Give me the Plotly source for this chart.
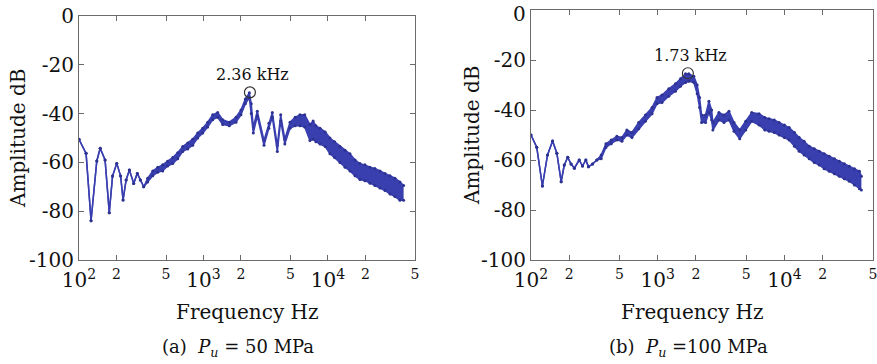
import math
import plotly.graph_objects as go

# ---------------- data ----------------
# (a) Pu = 50 MPa : frequency [Hz], upper and lower edge of the trace [dB]
FREQ_A = [100, 114, 125, 139, 148, 162, 175, 186, 201, 216, 226, 239, 254, 275, 294, 311, 331,
          356, 391, 429, 470, 515, 566, 621, 681, 747, 819, 898, 985, 1081, 1186, 1300, 1426,
          1612, 1824, 2000, 2168, 2336, 2420, 2512, 2704, 3062, 3350, 3570, 3918, 4170, 4500,
          4955, 5450, 5957, 6500, 7161, 7600, 8000, 8630, 9500, 10370, 11300, 12470, 13700,
          15020, 16500, 18060, 19800, 21730, 23800, 26180, 28700, 31480, 34500, 37850, 40500]
HI_A = [-50.5, -56.3, -83.9, -59.4, -54.2, -59.0, -80.6, -65.6, -60.4, -65.6, -75.4, -67.2, -63.1,
        -68.6, -64.5, -67.2, -70.0,
        -66.5, -63.5, -62.0, -61.0, -59.5, -58.0, -56.0, -53.5, -52.0, -50.5, -48.0, -46.0, -43.5,
        -40.5, -39.5, -42.5, -43.5, -41.5, -38.5, -34.0, -31.5, -36.0, -45.5, -39.0, -51.0, -44.0,
        -39.5, -53.0, -40.5, -50.5, -43.5, -41.5, -40.5, -40.5, -44.5, -43.0, -45.0, -46.0, -47.5,
        -50.0, -51.5, -53.5, -55.0, -56.5, -59.0, -60.5, -61.0, -62.0, -62.5, -63.5, -64.5, -65.5,
        -66.5, -68.0, -69.5]
LO_A = [-50.5, -56.3, -83.9, -59.4, -54.2, -59.0, -80.6, -65.6, -60.4, -65.6, -75.4, -67.2, -63.1,
        -68.6, -64.5, -67.2, -70.0,
        -68.0, -65.5, -64.0, -63.5, -61.5, -60.5, -58.5, -55.5, -54.5, -53.0, -50.0, -48.0, -45.5,
        -42.5, -41.5, -44.5, -45.0, -43.5, -40.5, -36.0, -33.5, -40.0, -48.0, -41.0, -53.0, -46.0,
        -41.5, -55.5, -43.0, -52.5, -46.0, -45.0, -45.0, -45.5, -51.0, -50.5, -51.5, -52.5, -53.5,
        -56.5, -58.0, -60.0, -62.0, -63.5, -65.5, -67.0, -67.5, -68.5, -69.5, -70.5, -71.5, -73.0,
        -74.0, -75.5, -75.5]

# (b) Pu = 100 MPa
FREQ_B = [100, 111, 123, 135, 148, 160, 173, 183, 195, 207, 220, 240, 255, 271, 284, 306, 331,
          358, 390, 430, 476, 522, 571, 626, 708, 800, 902, 987, 1081, 1222, 1380, 1513, 1657,
          1760, 1928, 2048, 2139, 2220, 2386, 2535, 2663, 2725, 3040, 3333, 3650, 4000, 4436,
          4950, 5520, 6310, 7000, 7570, 8300, 9080, 10000, 10900, 12000, 13070, 14300, 15700,
          17200, 18830, 20600, 22590, 24800, 27100, 29700, 32520, 35700, 39090, 40500]
HI_B = [-50.0, -54.9, -70.4, -58.0, -52.4, -57.3, -68.7, -62.0, -58.9, -61.6, -63.3, -60.0, -62.4,
        -60.0, -62.7, -61.6, -60.0,
        -58.0, -53.5, -52.0, -50.5, -51.0, -48.0, -49.0, -45.0, -42.0, -39.0, -35.0, -34.0, -31.5,
        -29.5, -27.5, -25.5, -25.5, -26.5, -30.0, -35.0, -42.0, -42.0, -36.5, -40.0, -45.0, -41.0,
        -42.0, -40.5, -45.0, -48.0, -44.5, -41.0, -41.5, -43.0, -43.5, -44.0, -45.0, -46.0, -47.0,
        -49.0, -51.0, -52.5, -54.5, -55.5, -56.5, -57.5, -58.5, -59.5, -60.5, -61.5, -62.5, -63.5,
        -64.5, -66.5]
LO_B = [-50.0, -54.9, -70.4, -58.0, -52.4, -57.3, -68.7, -62.0, -58.9, -61.6, -63.3, -60.0, -62.4,
        -60.0, -62.7, -61.6, -60.0,
        -59.5, -55.0, -53.5, -52.0, -52.5, -50.0, -51.0, -47.5, -44.5, -41.5, -37.5, -37.0, -34.5,
        -32.5, -30.5, -29.0, -28.5, -29.0, -33.5, -39.0, -45.0, -45.0, -41.0, -44.0, -48.0, -44.0,
        -45.0, -44.0, -48.5, -51.5, -48.0, -44.5, -46.0, -48.0, -48.5, -49.0, -50.0, -51.0, -52.0,
        -54.5, -56.5, -58.0, -59.5, -61.0, -62.0, -63.5, -64.5, -65.5, -66.5, -67.5, -68.5, -70.0,
        -71.5, -72.0]

PEAK_F = [2360, 1730]
PEAK_DB = [-31.3, -25.3]
PEAK_LABELS = ["2.36 kHz", "1.73 kHz"]
CAPTIONS = ["(a)  <i>P</i><sub><i>u</i></sub> = 50 MPa", "(b)  <i>P</i><sub><i>u</i></sub> =100 MPa"]
X_TITLE = "Frequency Hz"
Y_TITLE = "Amplitude dB"

X_TICKVALS = [100, 200, 500, 1000, 2000, 5000, 10000, 20000, 50000]
X_TICKTEXT = ["10<sup>2</sup>", "<sup>2</sup>", "<sup>5</sup>", "10<sup>3</sup>", "<sup>2</sup>",
              "<sup>5</sup>", "10<sup>4</sup>", "<sup>2</sup>", "<sup>5</sup>"]
Y_TICKVALS = [-100, -80, -60, -40, -20, 0]
Y_TICKTEXT = ["-100", "-80", "-60", "-40", "-20", "0"]

# ---------------- styling ----------------
W, H = 877, 364
BLUE = "#3a3fb0"
AXC = "#6b6b6b"
FONT = "DejaVu Serif"

# plot boxes in pixels (left, right, top, bottom)
BOXES = [(79, 415, 16, 260), (531, 873, 10, 260)]
CAPTION_X = [238, 688]
XTITLE_X = [247, 692]
YTITLE_X = [18, 472]

fig = go.Figure()
series = [(FREQ_A, HI_A, LO_A), (FREQ_B, HI_B, LO_B)]

for i, (f, hi, lo) in enumerate(series):
    xa = "x" if i == 0 else "x2"
    ya = "y" if i == 0 else "y2"
    fig.add_trace(go.Scatter(x=f, y=hi, mode="lines+markers", xaxis=xa, yaxis=ya,
                             line=dict(color=BLUE, width=1.5),
                             marker=dict(color="#2c3290", size=3),
                             showlegend=False, hoverinfo="skip"))
    fig.add_trace(go.Scatter(x=f, y=lo, mode="lines+markers", xaxis=xa, yaxis=ya,
                             line=dict(color=BLUE, width=1.5),
                             marker=dict(color="#2c3290", size=3),
                             fill="tonexty", fillcolor=BLUE,
                             showlegend=False, hoverinfo="skip"))
    # circle marking the peak
    fig.add_trace(go.Scatter(x=[PEAK_F[i]], y=[PEAK_DB[i]], mode="markers", xaxis=xa, yaxis=ya,
                             marker=dict(symbol="circle-open", size=11, color="#333333",
                                         line=dict(color="#333333", width=1.2)),
                             showlegend=False, hoverinfo="skip"))

axis_common = dict(showline=True, linecolor=AXC, linewidth=1.2, mirror="ticks",
                   ticks="inside", ticklen=5, tickcolor=AXC, tickwidth=1,
                   showgrid=False, zeroline=False, automargin=False,
                   ticklabeloverflow="allow",
                   tickfont=dict(family=FONT, size=20, color="#111"))

layout = dict(width=W, height=H, margin=dict(l=0, r=0, t=0, b=0), autosize=False,
              paper_bgcolor="white", plot_bgcolor="white",
              font=dict(family=FONT, color="#111"))

for i, (l, r, t, b) in enumerate(BOXES):
    sx = "" if i == 0 else "2"
    xdom = [l / W, r / W]
    ydom = [1 - b / H, 1 - t / H]
    # the top "0" label of panel (b) sits at the very top of the page, so it is
    # drawn as an annotation just below its tick instead of being clipped
    ytext = Y_TICKTEXT if i == 0 else Y_TICKTEXT[:-1] + [""]
    layout["xaxis" + sx] = dict(axis_common, type="log", range=[2, math.log10(50000)],
                                domain=xdom, anchor="y" + sx,
                                tickvals=X_TICKVALS, ticktext=X_TICKTEXT,
                                ticklabelstandoff=2)
    layout["yaxis" + sx] = dict(axis_common, range=[-100, 0], domain=ydom, anchor="x" + sx,
                                tickvals=Y_TICKVALS, ticktext=ytext,
                                ticklabelstandoff=0)

fig.update_layout(**layout)

fig.add_annotation(x=0, y=Y_TICKVALS[-1], xref="x2 domain", yref="y2",
                   text=Y_TICKTEXT[-1], showarrow=False, xanchor="right", yanchor="middle",
                   xshift=-3, yshift=-4, font=dict(family=FONT, size=20, color="#111"))

for i, (l, r, t, b) in enumerate(BOXES):
    sx = "" if i == 0 else "2"
    fig.add_annotation(x=math.log10(PEAK_F[i]), y=PEAK_DB[i], xref="x" + sx, yref="y" + sx,
                       text=PEAK_LABELS[i], showarrow=False, yshift=18, xshift=3,
                       font=dict(family=FONT, size=16, color="#111"))
    # axis titles
    fig.add_annotation(x=XTITLE_X[i] / W, y=1 - 312 / H, xref="paper", yref="paper",
                       text=X_TITLE, showarrow=False, xanchor="center", yanchor="middle",
                       font=dict(family=FONT, size=20, color="#111"))
    fig.add_annotation(x=YTITLE_X[i] / W, y=1 - ((t + b) / 2 + 1) / H, xref="paper", yref="paper",
                       text=Y_TITLE, showarrow=False, textangle=-90,
                       xanchor="center", yanchor="middle",
                       font=dict(family=FONT, size=20, color="#111"))
    # caption
    fig.add_annotation(x=CAPTION_X[i] / W, y=1 - 348 / H, xref="paper", yref="paper",
                       text=CAPTIONS[i], showarrow=False, xanchor="center", yanchor="middle",
                       font=dict(family=FONT, size=18, color="#111"))

fig.write_html("out.html")
